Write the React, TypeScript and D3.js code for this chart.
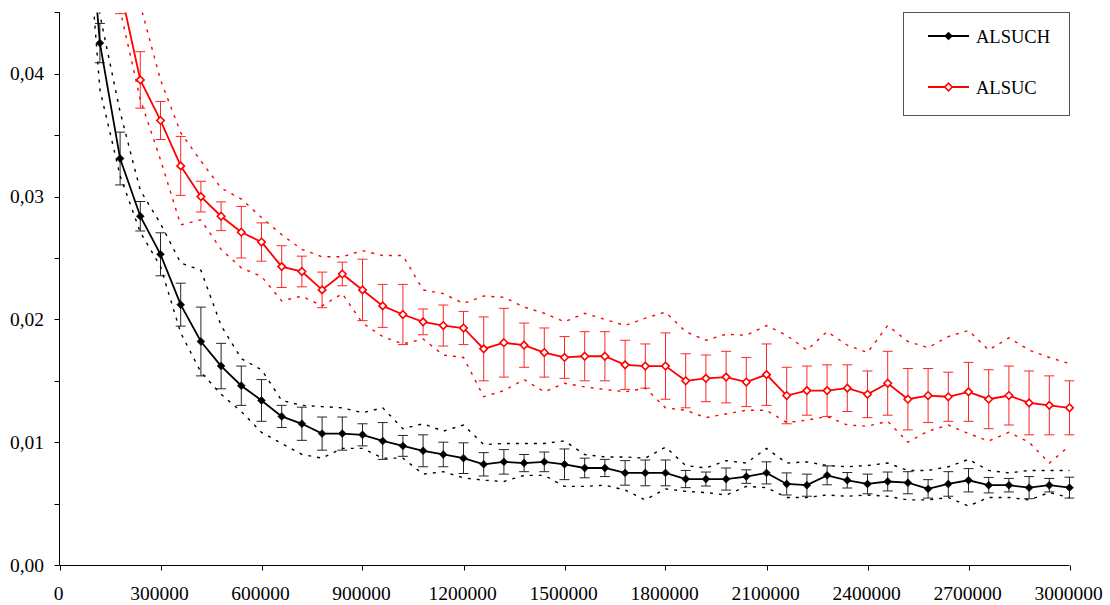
import React from "react";
import * as d3 from "d3";

const xValues = [
  60000, 120000, 180000, 240000, 300000, 360000, 420000, 480000, 540000, 600000,
  660000, 720000, 780000, 840000, 900000, 960000, 1020000, 1080000, 1140000, 1200000,
  1260000, 1320000, 1380000, 1440000, 1500000, 1560000, 1620000, 1680000, 1740000, 1800000,
  1860000, 1920000, 1980000, 2040000, 2100000, 2160000, 2220000, 2280000, 2340000, 2400000,
  2460000, 2520000, 2580000, 2640000, 2700000, 2760000, 2820000, 2880000, 2940000, 3000000,
];

const alsuchMean = [
  0.062, 0.0425, 0.0331, 0.0284, 0.0253, 0.0212, 0.0182, 0.0162, 0.0146, 0.0134,
  0.0121, 0.0115, 0.0107, 0.0107, 0.0106, 0.0101, 0.0097, 0.0093, 0.009, 0.0087,
  0.0082, 0.0084, 0.0083, 0.0084, 0.0082, 0.0079, 0.0079, 0.0075, 0.0075, 0.0075,
  0.007, 0.007, 0.007, 0.0072, 0.0075, 0.0066, 0.0065, 0.0073, 0.0069, 0.0066,
  0.0068, 0.0067, 0.0062, 0.0066, 0.0069, 0.0065, 0.0065, 0.0063, 0.0065, 0.0063,
];
const alsuchErr = [
  0.003, 0.0016, 0.00215, 0.0012, 0.00175, 0.00175, 0.0028, 0.00185, 0.0016, 0.0017,
  0.0009, 0.00135, 0.00135, 0.00135, 0.0009, 0.0015, 0.00085, 0.0013, 0.001, 0.00125,
  0.00095, 0.001, 0.0007, 0.0008, 0.00125, 0.0008, 0.0007, 0.001, 0.00105, 0.00105,
  0.0007, 0.00057, 0.0009, 0.00055, 0.0009, 0.0009, 0.0009, 0.00077, 0.00063, 0.0008,
  0.00077, 0.0009, 0.00075, 0.001, 0.00095, 0.00063, 0.00055, 0.0009, 0.00055, 0.00085,
];
const alsuchUpper = [
  0.07, 0.0448, 0.0369, 0.0305, 0.0278, 0.0246, 0.024, 0.0195, 0.0168, 0.0159,
  0.0134, 0.013, 0.0129, 0.0128, 0.0124, 0.0128, 0.0111, 0.0115, 0.0109, 0.0114,
  0.0098, 0.0099, 0.0099, 0.0099, 0.0101, 0.009, 0.0088, 0.0088, 0.0087, 0.0096,
  0.0081, 0.0079, 0.0085, 0.0083, 0.0095, 0.0083, 0.0084, 0.0081, 0.008, 0.0081,
  0.0083, 0.0077, 0.0077, 0.008, 0.0086, 0.0077, 0.0075, 0.0077, 0.0077, 0.0077,
];
const alsuchLower = [
  0.06, 0.0387, 0.0317, 0.0271, 0.0243, 0.0189, 0.0157, 0.0139, 0.0125, 0.0108,
  0.0099, 0.009, 0.0087, 0.0095, 0.0095, 0.0087, 0.0087, 0.0074, 0.0076, 0.0071,
  0.0069, 0.0068, 0.0073, 0.0073, 0.0064, 0.0064, 0.0065, 0.0061, 0.0053, 0.0062,
  0.006, 0.0059, 0.0057, 0.0064, 0.0063, 0.0055, 0.0055, 0.0057, 0.0056, 0.0057,
  0.0056, 0.0053, 0.0053, 0.0055, 0.0048, 0.0055, 0.0055, 0.0053, 0.0059, 0.0055,
];

const alsucMean = [
  0.075, 0.06, 0.047, 0.0395, 0.0362, 0.0325, 0.03, 0.0284, 0.0271, 0.0263,
  0.0243, 0.0239, 0.0224, 0.0237, 0.0224, 0.0211, 0.0204, 0.0198, 0.0195, 0.0193,
  0.0176, 0.0181, 0.0179, 0.0173, 0.0169, 0.017, 0.017, 0.0163, 0.0162, 0.0162,
  0.015, 0.0152, 0.0153, 0.0149, 0.0155, 0.0138, 0.0142, 0.0142, 0.0144, 0.0139,
  0.0148, 0.0135, 0.0138, 0.0137, 0.0141, 0.0135, 0.0138, 0.0132, 0.013, 0.0128,
];
const alsucErr = [
  0.003, 0.003, 0.0021, 0.0023, 0.00155, 0.0024, 0.00125, 0.00117, 0.0021, 0.00156,
  0.0017, 0.00125, 0.00145, 0.00096, 0.0025, 0.00175, 0.00245, 0.00105, 0.00167, 0.00135,
  0.0026, 0.0028, 0.0018, 0.002, 0.0017, 0.002, 0.002, 0.002, 0.0018, 0.0027,
  0.0022, 0.0019, 0.0021, 0.002, 0.0025, 0.0023, 0.002, 0.0021, 0.0019, 0.0019,
  0.0026, 0.0025, 0.0022, 0.002, 0.0024, 0.0024, 0.0024, 0.0026, 0.0024, 0.0022,
];
const alsucUpper = [
  0.085, 0.07, 0.056, 0.0456, 0.0395, 0.0352, 0.0329, 0.0307, 0.0298, 0.0283,
  0.0269, 0.0257, 0.0251, 0.0251, 0.0256, 0.0252, 0.0252, 0.0224, 0.0221, 0.0213,
  0.0219, 0.0218, 0.021, 0.0205, 0.0198, 0.0205, 0.02, 0.0195, 0.0201, 0.0206,
  0.019, 0.0183, 0.0188, 0.0187, 0.0195, 0.0187, 0.0175, 0.019, 0.0179, 0.0173,
  0.0195, 0.0182, 0.0177, 0.0186, 0.0191, 0.0175, 0.0185, 0.0175, 0.0169, 0.0164,
];
const alsucLower = [
  0.07, 0.057, 0.0452, 0.0379, 0.033, 0.0277, 0.0281, 0.0257, 0.0242, 0.0235,
  0.0215, 0.0219, 0.0211, 0.0221, 0.0197, 0.0186, 0.018, 0.0184, 0.0171, 0.0169,
  0.0137, 0.0142, 0.0151, 0.0141, 0.0148, 0.0145, 0.0143, 0.0141, 0.0144, 0.0128,
  0.0126, 0.012, 0.0123, 0.0126, 0.0126, 0.0116, 0.0118, 0.0121, 0.0114, 0.0113,
  0.0117, 0.01, 0.0109, 0.0114, 0.0107, 0.0101, 0.0108, 0.01, 0.0083, 0.0097,
];

const xTicks = [0, 300000, 600000, 900000, 1200000, 1500000, 1800000, 2100000, 2400000, 2700000, 3000000];
const yTicks = [0, 0.005, 0.01, 0.015, 0.02, 0.025, 0.03, 0.035, 0.04, 0.045];
const yLabels = [0, 0.01, 0.02, 0.03, 0.04];

const seriesNames = ["ALSUCH", "ALSUC"];

const W = 1110;
const H = 605;
const FONT = "'Liberation Serif', 'Times New Roman', serif";

export default function App() {
  const x = d3.scaleLinear().domain([0, 3000000]).range([59.5, 1069.5]);
  const y = d3.scaleLinear().domain([0, 0.045]).range([565, 12.4]);

  const line = (vals: number[]) =>
    d3
      .line<number>()
      .x((_, i) => x(xValues[i]))
      .y((d) => y(d))(vals) || "";

  const fmtY = (v: number) => d3.format(".2f")(v).replace(".", ",");

  const diamond = d3.symbol().type(d3.symbolDiamond2).size(40)() || "";
  const diamondOpen = d3.symbol().type(d3.symbolDiamond2).size(36)() || "";

  const series = [
    { name: seriesNames[0], mean: alsuchMean, err: alsuchErr, up: alsuchUpper, lo: alsuchLower, color: "#000000", filled: true },
    { name: seriesNames[1], mean: alsucMean, err: alsucErr, up: alsucUpper, lo: alsucLower, color: "#ff0000", filled: false },
  ];

  const cap = 5;

  return (
    <svg
      width={W}
      height={H}
      style={{ position: "absolute", left: 0, top: 0, background: "#fff" }}
      fontFamily={FONT}
    >
      <defs>
        <clipPath id="plotClip">
          <rect x={59.5} y={12.4} width={1015} height={553} />
        </clipPath>
      </defs>
      <rect x={0} y={0} width={W} height={H} fill="#fff" />

      <g clipPath="url(#plotClip)">
        {series.map((s) => (
          <g key={s.name}>
            <path d={line(s.up)} fill="none" stroke={s.color} strokeWidth={1.4} strokeDasharray="3,6" />
            <path d={line(s.lo)} fill="none" stroke={s.color} strokeWidth={1.4} strokeDasharray="3,6" />
            {s.mean.map((m, i) => {
              const cx = x(xValues[i]);
              const y1 = y(m + s.err[i]);
              const y2 = y(m - s.err[i]);
              return (
                <g key={i} stroke={s.color} strokeWidth={1} opacity={0.85}>
                  <line x1={cx} x2={cx} y1={y1} y2={y2} />
                  <line x1={cx - cap} x2={cx + cap} y1={y1} y2={y1} />
                  <line x1={cx - cap} x2={cx + cap} y1={y2} y2={y2} />
                </g>
              );
            })}
            <path d={line(s.mean)} fill="none" stroke={s.color} strokeWidth={1.8} />
            {s.mean.map((m, i) => (
              <path
                key={"m" + i}
                d={s.filled ? diamond : diamondOpen}
                transform={`translate(${x(xValues[i])},${y(m)})`}
                fill={s.filled ? s.color : "#fff"}
                stroke={s.color}
                strokeWidth={s.filled ? 0.5 : 1.6}
              />
            ))}
          </g>
        ))}
      </g>

      {/* Y axis */}
      <line x1={59.5} x2={59.5} y1={y(0.045)} y2={y(0)} stroke="#000" strokeWidth={1} />
      {yTicks.map((t) => (
        <line key={t} x1={54.5} x2={59.5} y1={Math.round(y(t)) + 0.5} y2={Math.round(y(t)) + 0.5} stroke="#000" strokeWidth={1} />
      ))}
      {yLabels.map((t) => (
        <text key={t} x={44} y={y(t) + 6.5} textAnchor="end" fontSize={19.5} fill="#000">
          {fmtY(t)}
        </text>
      ))}

      {/* X axis */}
      <line x1={59.5} x2={1069.5} y1={565.5} y2={565.5} stroke="#000" strokeWidth={1} />
      {xTicks.map((t) => (
        <line key={t} x1={Math.round(x(t)) + 0.5} x2={Math.round(x(t)) + 0.5} y1={565.5} y2={570.5} stroke="#000" strokeWidth={1} />
      ))}
      {xTicks.map((t) => (
        <text key={"l" + t} x={x(t) - 1} y={600} textAnchor="middle" fontSize={19.5} fill="#000">
          {String(t)}
        </text>
      ))}

      {/* Legend */}
      <rect x={903.5} y={12.5} width={166} height={103} fill="#fff" stroke="#555" strokeWidth={1} />
      {series.map((s, i) => {
        const ly = 36 + i * 51;
        return (
          <g key={"lg" + i}>
            <line x1={928} x2={969} y1={ly} y2={ly} stroke={s.color} strokeWidth={1.8} />
            <path
              d={s.filled ? diamond : diamondOpen}
              transform={`translate(948.5,${ly})`}
              fill={s.filled ? s.color : "#fff"}
              stroke={s.color}
              strokeWidth={s.filled ? 0.5 : 1.6}
            />
            <text x={976} y={ly + 7} fontSize={18.5} fill="#000">
              {s.name}
            </text>
          </g>
        );
      })}
    </svg>
  );
}
